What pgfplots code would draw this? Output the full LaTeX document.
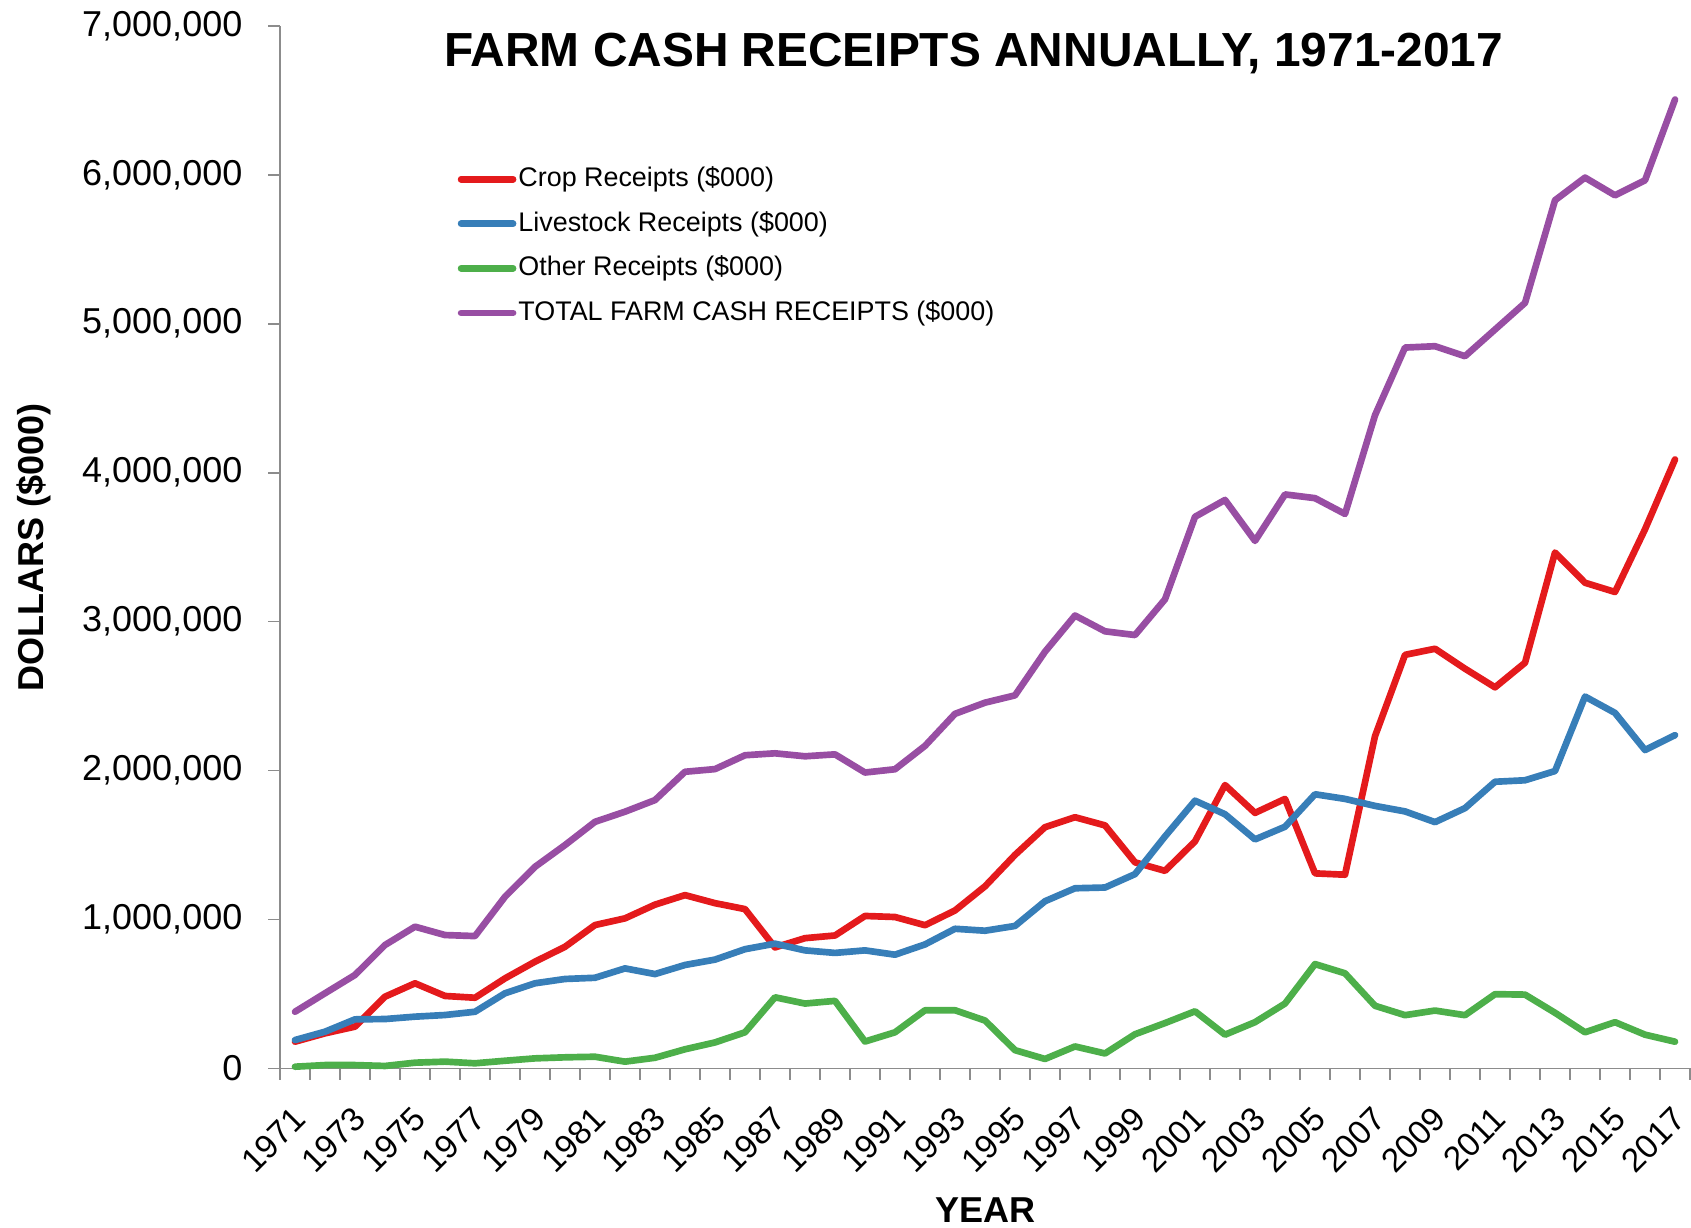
\documentclass[border=0pt]{standalone}
\usepackage{pgfplots}
\pgfplotsset{compat=1.18}
\usepackage{pgfplotstable}
\usepackage{fontspec}
\setmainfont{Liberation Sans}
\definecolor{cropred}{HTML}{E41A1C}
\definecolor{liveblue}{HTML}{377EB8}
\definecolor{othergreen}{HTML}{4DAF4A}
\definecolor{totalpurple}{HTML}{984EA3}
\definecolor{axisgray}{HTML}{8C8C8C}
\pgfplotstableread{
year crop livestock other total
1971 180000 191000 12000 381000
1972 236000 247000 23000 505000
1973 281000 330000 23000 628000
1974 482000 332000 17000 829000
1975 572000 348000 39000 952000
1976 487000 359000 46000 896000
1977 475000 381000 35000 889000
1978 605000 505000 52000 1153000
1979 717000 572000 68000 1354000
1980 817000 601000 75000 1500000
1981 963000 609000 79000 1656000
1982 1008000 672000 46000 1724000
1983 1100000 634000 72000 1802000
1984 1164000 695000 129000 1992000
1985 1110000 731000 175000 2010000
1986 1070000 801000 243000 2103000
1987 813000 838000 478000 2116000
1988 875000 793000 436000 2096000
1989 893000 776000 454000 2109000
1990 1024000 793000 181000 1987000
1991 1017000 764000 243000 2009000
1992 962000 833000 391000 2166000
1993 1061000 938000 391000 2381000
1994 1223000 925000 322000 2456000
1995 1434000 957000 123000 2505000
1996 1620000 1123000 64000 2798000
1997 1687000 1210000 148000 3041000
1998 1632000 1215000 101000 2935000
1999 1384000 1305000 230000 2910000
2000 1327000 1558000 305000 3150000
2001 1525000 1798000 384000 3704000
2002 1903000 1707000 227000 3817000
2003 1716000 1538000 311000 3542000
2004 1810000 1623000 436000 3854000
2005 1310000 1841000 701000 3829000
2006 1301000 1810000 639000 3723000
2007 2231000 1763000 421000 4386000
2008 2777000 1726000 358000 4840000
2009 2818000 1654000 389000 4849000
2010 2684000 1748000 358000 4782000
2011 2559000 1925000 499000 4961000
2012 2724000 1935000 496000 5140000
2013 3464000 1997000 374000 5829000
2014 3261000 2497000 243000 5981000
2015 3199000 2387000 311000 5862000
2016 3620000 2138000 227000 5963000
2017 4089000 2238000 180000 6505000
}\datatable
\begin{document}
\begin{tikzpicture}
\useasboundingbox (-84pt,-47.85pt) rectangle (423.3pt,320.55pt);
\begin{axis}[
  at={(0pt,0pt)}, anchor=south west,
  scale only axis, width=423pt, height=312.8pt,
  xmin=1970.5, xmax=2017.5, ymin=0, ymax=7000000,
  separate axis lines,
  axis x line*=bottom, axis y line*=left,
  axis line style={draw=axisgray, line width=0.5pt, -},
  tick align=outside,
  xtick={1971,1973,...,2017},
  minor xtick={1970.5,1971.5,...,2017.5},
  major x tick style={draw=none},
  minor x tick style={draw=axisgray, line width=0.5pt},
  minor tick length=3.4pt,
  ytick={0,1000000,...,7000000},
  y tick style={draw=axisgray, line width=0.5pt},
  major tick length=3.5pt,
  scaled y ticks=false,
  /pgf/number format/assume math mode=true,
  yticklabel style={/pgf/number format/fixed, /pgf/number format/precision=0, /pgf/number format/1000 sep={,}, font=\fontsize{10.8}{13}\selectfont, inner sep=0pt},
  yticklabel shift=7.6pt,
  xticklabel style={/pgf/number format/1000 sep={}, font=\fontsize{10}{12}\selectfont, rotate=45, anchor=north east, inner sep=0pt, xshift=-1.5pt},
  xticklabel shift=6.2pt,
  xlabel={YEAR},
  xlabel style={at={(axis description cs:0.5,-0.1359)}, anchor=center, font=\bfseries\fontsize{10.8}{13}\selectfont},
  ylabel={DOLLARS (\$000)},
  ylabel style={at={(axis description cs:-0.1745,0.5)}, anchor=center, rotate=0, font=\bfseries\fontsize{10.8}{13}\selectfont},
  title={FARM CASH RECEIPTS ANNUALLY, 1971-2017},
  title style={at={(axis description cs:0.492,0.942)}, anchor=base, font=\bfseries\fontsize{14.35}{17}\selectfont},
  legend cell align=left,
  legend style={at={(axis description cs:0.1256,0.8655)}, anchor=north west, draw=none, fill=none, inner sep=0pt, row sep=5.9pt, font=\fontsize{8.07}{9.6}\selectfont, nodes={inner xsep=0.6pt, inner ysep=0pt}},
  legend image code/.code={\draw[#1, line width=2pt, line cap=round] (0pt,0pt) -- (15.6pt,0pt);},
  every axis plot/.append style={line width=2pt, line join=round, line cap=round, mark=none},
  clip=false,
]
\addplot[cropred] table[x=year, y=crop] {\datatable};
\addlegendentry{Crop Receipts (\$000)}
\addplot[liveblue] table[x=year, y=livestock] {\datatable};
\addlegendentry{Livestock Receipts (\$000)}
\addplot[othergreen] table[x=year, y=other] {\datatable};
\addlegendentry{Other Receipts (\$000)}
\addplot[totalpurple] table[x=year, y=total] {\datatable};
\addlegendentry{TOTAL FARM CASH RECEIPTS (\$000)}
\end{axis}
\end{tikzpicture}
\end{document}
